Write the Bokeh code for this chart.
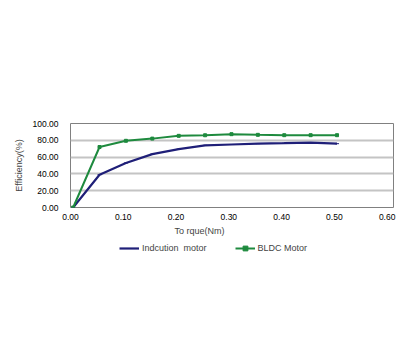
from bokeh.plotting import figure
from bokeh.layouts import column
from bokeh.models import Range1d, Legend, LegendItem, Title, FixedTicker, CustomJSTickFormatter
from bokeh.embed import file_html
from bokeh.resources import INLINE

torque = [0.005, 0.055, 0.105, 0.155, 0.205, 0.255, 0.305, 0.355, 0.405, 0.455, 0.505]
induction_eff = [0.0, 39.0, 53.0, 63.5, 69.5, 74.0, 75.0, 76.0, 76.6, 77.3, 76.0]
bldc_eff = [0.0, 72.0, 79.4, 82.0, 85.3, 86.0, 87.3, 86.5, 86.1, 86.1, 86.1]
x_ticks = [0.0, 0.1, 0.2, 0.3, 0.4, 0.5, 0.6]
y_ticks = [0, 20, 40, 60, 80, 100]
series_names = ["Indcution  motor", "BLDC Motor"]

NAVY = "#1f1f78"
GREEN = "#1e8a3e"
FONT = "Liberation Sans"

p = figure(width=410, height=240, output_backend="svg", toolbar_location=None,
           x_range=Range1d(0, 0.612), y_range=Range1d(0, 100),
           min_border_left=70, min_border_right=17, min_border_top=123, min_border_bottom=33)
p.outline_line_color = "#808080"
p.outline_line_width = 1
p.background_fill_color = "white"
p.border_fill_color = "white"

p.xgrid.grid_line_color = None
p.ygrid.grid_line_color = "#c4c4c4"
p.ygrid.grid_line_width = 2

for ax in (p.xaxis[0], p.yaxis[0]):
    ax.axis_line_color = None
    ax.major_tick_line_color = None
    ax.minor_tick_line_color = None
    ax.major_tick_out = 0
    ax.major_tick_in = 0
    ax.major_label_text_font = FONT
    ax.major_label_text_font_size = "8.5px"
    ax.major_label_text_color = "#000000"

p.xaxis[0].ticker = FixedTicker(ticks=x_ticks)
p.yaxis[0].ticker = FixedTicker(ticks=y_ticks)
p.xaxis[0].formatter = CustomJSTickFormatter(code="return tick.toFixed(2);")
p.yaxis[0].formatter = CustomJSTickFormatter(code="return tick.toFixed(2);")
p.xaxis[0].major_label_standoff = 6
p.yaxis[0].major_label_standoff = 12

p.yaxis[0].axis_label = "Efficiency(%)"
p.yaxis[0].axis_label_text_font = FONT
p.yaxis[0].axis_label_text_font_size = "9px"
p.yaxis[0].axis_label_text_font_style = "normal"
p.yaxis[0].axis_label_standoff = 6

p.line(torque, induction_eff, line_color=NAVY, line_width=2.2)
p.scatter(torque, induction_eff, marker="dash", size=4, line_color=NAVY, line_width=1)
p.line(torque, bldc_eff, line_color=GREEN, line_width=2)
p.scatter(torque, bldc_eff, marker="square", size=3, fill_color=GREEN, line_color=GREEN)

p.add_layout(Title(text="To rque(Nm)", align="left", offset=104, standoff=2,
                   text_font=FONT, text_font_size="9px", text_font_style="normal"), "below")

# legend strip below the chart
q = figure(width=410, height=114, output_backend="svg", toolbar_location=None,
           x_range=Range1d(0, 1), y_range=Range1d(0, 1),
           min_border=0, min_border_left=0, min_border_right=0,
           min_border_top=0, min_border_bottom=0)
q.axis.visible = False
q.grid.grid_line_color = None
q.outline_line_color = None
q.background_fill_color = "white"
q.border_fill_color = "white"

ql1 = q.line(torque, induction_eff, line_color=NAVY, line_width=2.2, visible=False)
qm1 = q.scatter(torque, induction_eff, marker="dash", size=4, line_color=NAVY, line_width=1, visible=False)
ql2 = q.line(torque, bldc_eff, line_color=GREEN, line_width=2, visible=False)
qm2 = q.scatter(torque, bldc_eff, marker="square", size=3, fill_color=GREEN, line_color=GREEN, visible=False)

lg = Legend(items=[LegendItem(label=series_names[0], renderers=[ql1, qm1]),
                   LegendItem(label=series_names[1], renderers=[ql2, qm2])],
            location=(49, 100), orientation="horizontal", padding=0, margin=0, spacing=28,
            glyph_width=20, glyph_height=12, label_height=12, label_standoff=3,
            label_text_font=FONT, label_text_font_size="9px",
            inactive_fill_alpha=0,
            border_line_color=None, background_fill_alpha=0)
q.add_layout(lg)

page = column(p, q, spacing=0)
open("out.html", "w").write(file_html(page, INLINE))
